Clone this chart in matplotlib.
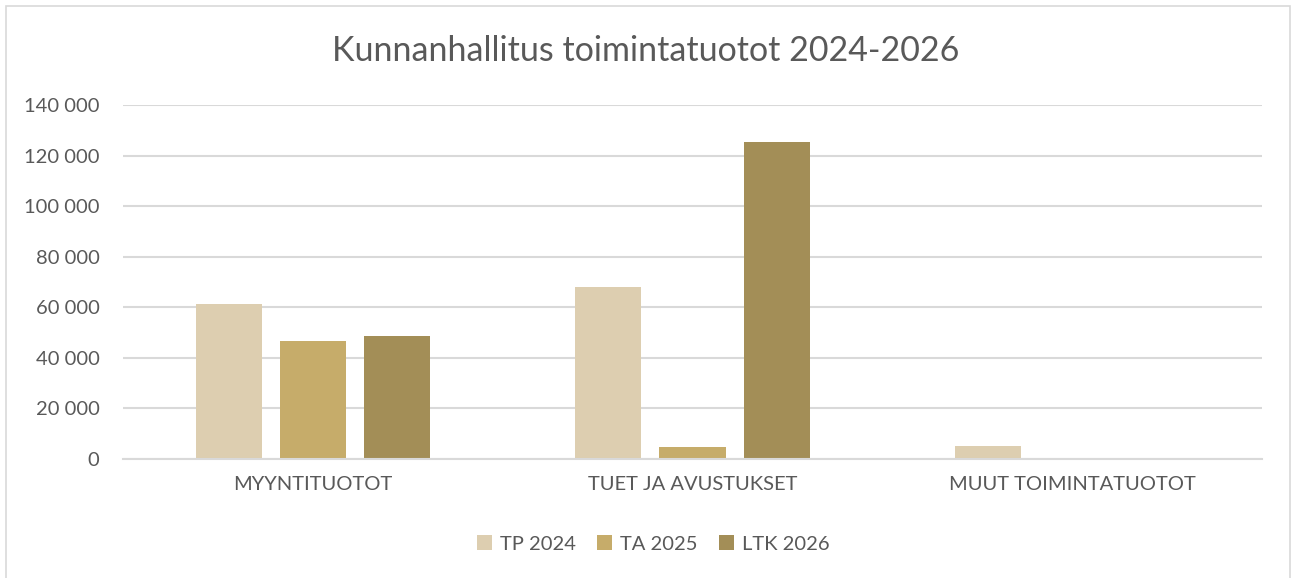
import matplotlib
matplotlib.use("Agg")
import matplotlib.pyplot as plt
from matplotlib.patches import Rectangle
import numpy as np

categories = ["MYYNTITUOTOT", "TUET JA AVUSTUKSET", "MUUT TOIMINTATUOTOT"]
series_names = ["TP 2024", "TA 2025", "LTK 2026"]
tp2024 = [61300, 68100, 5100]
ta2025 = [46500, 4900, 0]
ltk2026 = [48500, 125500, 0]
colors = ["#DDCEB0", "#C6AC6A", "#A38E57"]
yticks = [0, 20000, 40000, 60000, 80000, 100000, 120000, 140000]
ytick_labels = ["0", "20 000", "40 000", "60 000", "80 000", "100 000", "120 000", "140 000"]

plt.rcParams['font.family'] = ['Lato', 'DejaVu Sans']
text_color = "#595959"

fig = plt.figure(figsize=(12.92, 5.78), dpi=100)
ax = fig.add_axes([123/1292, 1 - 459/578, (1262-123)/1292, (459-105)/578])

x = np.arange(len(categories))
width = 0.174
offset = 0.2216
for i, (vals, name) in enumerate(zip([tp2024, ta2025, ltk2026], series_names)):
    ax.bar(x + (i - 1) * offset, vals, width, color=colors[i], label=name, zorder=3)

ax.set_xlim(-0.5, len(categories) - 0.5)
ax.set_ylim(0, 140000)
ax.set_yticks(yticks)
ax.set_yticklabels(ytick_labels)
ax.set_xticks(x)
ax.set_xticklabels(categories)
ax.tick_params(axis='both', length=0, colors=text_color, labelsize=14.5)
ax.tick_params(axis='y', pad=17)
ax.tick_params(axis='x', pad=12)
ax.grid(axis='y', color="#D9D9D9", linewidth=1.5, zorder=0)
for s in ['top', 'right', 'left']:
    ax.spines[s].set_visible(False)
ax.spines['bottom'].set_color("#D9D9D9")
ax.spines['bottom'].set_linewidth(1.5)
ax.spines['bottom'].set_zorder(4)

fig.text(0.5, 1 - 51/578, "Kunnanhallitus toimintatuotot 2024-2026", ha='center', va='center',
         fontsize=24.5, color=text_color)

leg = fig.legend(loc='center', bbox_to_anchor=(653/1292, 1 - 544/578), ncol=3, frameon=False,
                 fontsize=14.5, handlelength=0.75, handleheight=0.75, handletextpad=0.4,
                 columnspacing=1.05, labelcolor=text_color)

fig.patches.append(Rectangle((6/1292, -0.01), (1290-6)/1292, 1 - 6/578 + 0.01, transform=fig.transFigure,
                             fill=False, edgecolor="#D9D9D9", linewidth=1.2))

fig.savefig("out.png", dpi=100)
